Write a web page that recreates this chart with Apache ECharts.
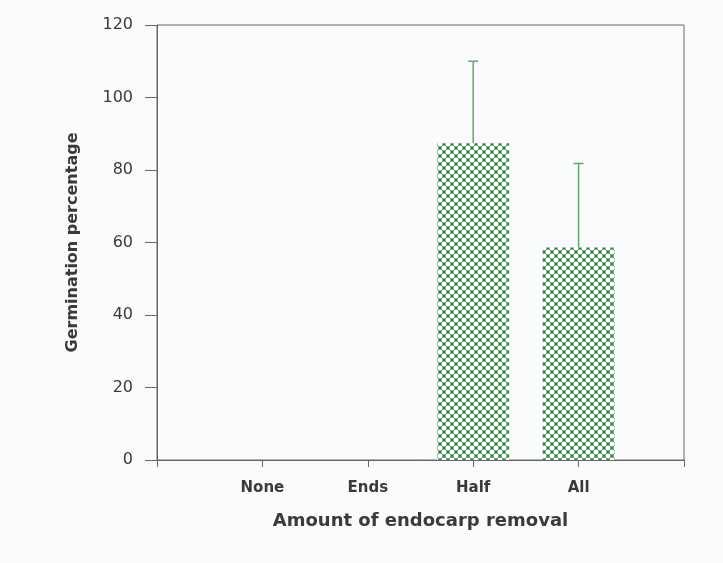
<!DOCTYPE html>
<html>
<head>
<meta charset="utf-8">
<title>Germination percentage</title>
<script src="https://cdn.jsdelivr.net/npm/echarts@6/dist/echarts.min.js"></script>
<style>
  html, body { margin: 0; padding: 0; background: #fafbfd; }
  #chart { width: 723px; height: 563px; }
</style>
</head>
<body>
<div id="chart"></div>
<script>
// data
var categories = ['None', 'Ends', 'Half', 'All']
var germination = [0, 0, 87.4, 58.6]
var errorUpper = [0, 0, 110, 81.8]
var yTicks = [0, 20, 40, 60, 80, 100, 120]

// crosshatch fill: green with white dots on a diagonal lattice
function hatchPattern() {
  var s = 8
  var c = document.createElement('canvas')
  c.width = s
  c.height = s
  var ctx = c.getContext('2d')
  ctx.fillStyle = '#2f8242'
  ctx.fillRect(0, 0, s, s)
  ctx.fillStyle = '#ffffff'
  var pts = [[s / 2, s / 2], [0, 0], [s, 0], [0, s], [s, s]]
  pts.forEach(function (p) {
    ctx.beginPath()
    ctx.arc(p[0], p[1], 2.5, 0, Math.PI * 2)
    ctx.fill()
  })
  return c
}

var chart = echarts.init(document.getElementById('chart'))
var textColor = '#3a3a3a'
var lineColor = '#666'

var barData = categories.map(function (c, i) { return [i, germination[i]] })
var errData = categories.map(function (c, i) { return [i, germination[i], errorUpper[i]] })

var option = {
  animation: false,
  backgroundColor: '#fafbfd',
  textStyle: { fontFamily: 'DejaVu Sans, Liberation Sans, sans-serif' },
  grid: {
    left: 157, right: 39, top: 25, bottom: 103,
    show: true, borderColor: lineColor, borderWidth: 1, backgroundColor: 'transparent'
  },
  xAxis: {
    type: 'value',
    min: -1,
    max: 4,
    interval: 1,
    name: 'Amount of endocarp removal',
    nameLocation: 'middle',
    nameGap: 52,
    nameTextStyle: { fontSize: 18, fontWeight: 'bold', color: textColor },
    axisLine: { show: true, onZero: false, lineStyle: { color: lineColor } },
    axisTick: { show: true, length: 7, lineStyle: { color: lineColor } },
    splitLine: { show: false },
    axisLabel: {
      fontSize: 15, fontWeight: 'bold', color: textColor, margin: 21,
      showMinLabel: true, showMaxLabel: true,
      formatter: function (v) {
        return Number.isInteger(v) && v >= 0 && v < categories.length ? categories[v] : ''
      }
    }
  },
  yAxis: {
    type: 'value',
    min: yTicks[0],
    max: yTicks[yTicks.length - 1],
    interval: yTicks[1] - yTicks[0],
    name: 'Germination percentage',
    nameLocation: 'middle',
    nameGap: 76,
    nameRotate: 90,
    nameTextStyle: { fontSize: 16, fontWeight: 'bold', color: textColor },
    axisLine: { show: true, onZero: false, lineStyle: { color: lineColor } },
    axisTick: { show: true, length: 12, lineStyle: { color: lineColor } },
    splitLine: { show: false },
    axisLabel: { fontSize: 16, color: textColor, margin: 24 }
  },
  series: [
    {
      type: 'bar',
      data: barData,
      barWidth: 72,
      itemStyle: {
        color: { image: hatchPattern(), repetition: 'repeat' },
        borderWidth: 0
      }
    },
    {
      type: 'custom',
      data: errData,
      z: 3,
      renderItem: function (params, api) {
        var x = api.value(0)
        var lo = api.value(1)
        var hi = api.value(2)
        if (!(hi > lo)) return
        var pLo = api.coord([x, lo])
        var pHi = api.coord([x, hi])
        var half = 5
        var style = { stroke: '#5ba86b', lineWidth: 1.5 }
        return {
          type: 'group',
          children: [
            { type: 'line', shape: { x1: pLo[0], y1: pLo[1], x2: pHi[0], y2: pHi[1] }, style: style },
            { type: 'line', shape: { x1: pHi[0] - half, y1: pHi[1], x2: pHi[0] + half, y2: pHi[1] }, style: style }
          ]
        }
      }
    }
  ]
}

chart.setOption(option)
</script>
</body>
</html>
